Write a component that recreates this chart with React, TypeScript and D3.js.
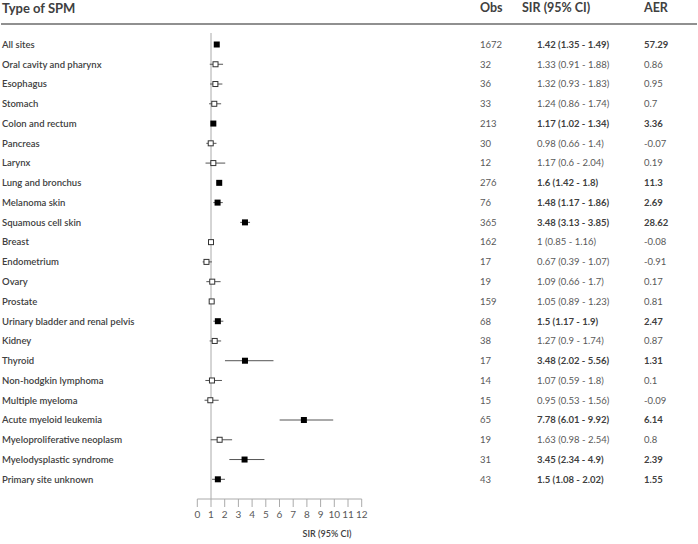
import React from "react";
import * as d3 from "d3";

const categories = [
  "All sites",
  "Oral cavity and pharynx",
  "Esophagus",
  "Stomach",
  "Colon and rectum",
  "Pancreas",
  "Larynx",
  "Lung and bronchus",
  "Melanoma skin",
  "Squamous cell skin",
  "Breast",
  "Endometrium",
  "Ovary",
  "Prostate",
  "Urinary bladder and renal pelvis",
  "Kidney",
  "Thyroid",
  "Non-hodgkin lymphoma",
  "Multiple myeloma",
  "Acute myeloid leukemia",
  "Myeloproliferative neoplasm",
  "Myelodysplastic syndrome",
  "Primary site unknown",
];
const obs = [1672, 32, 36, 33, 213, 30, 12, 276, 76, 365, 162, 17, 19, 159, 68, 38, 17, 14, 15, 65, 19, 31, 43];
const sir = [1.42, 1.33, 1.32, 1.24, 1.17, 0.98, 1.17, 1.6, 1.48, 3.48, 1, 0.67, 1.09, 1.05, 1.5, 1.27, 3.48, 1.07, 0.95, 7.78, 1.63, 3.45, 1.5];
const ciLow = [1.35, 0.91, 0.93, 0.86, 1.02, 0.66, 0.6, 1.42, 1.17, 3.13, 0.85, 0.39, 0.66, 0.89, 1.17, 0.9, 2.02, 0.59, 0.53, 6.01, 0.98, 2.34, 1.08];
const ciHigh = [1.49, 1.88, 1.83, 1.74, 1.34, 1.4, 2.04, 1.8, 1.86, 3.85, 1.16, 1.07, 1.7, 1.23, 1.9, 1.74, 5.56, 1.8, 1.56, 9.92, 2.54, 4.9, 2.02];
const aer = ["57.29", "0.86", "0.95", "0.7", "3.36", "-0.07", "0.19", "11.3", "2.69", "28.62", "-0.08", "-0.91", "0.17", "0.81", "2.47", "0.87", "1.31", "0.1", "-0.09", "6.14", "0.8", "2.39", "1.55"];
const xTicks = [0, 1, 2, 3, 4, 5, 6, 7, 8, 9, 10, 11, 12];

const FONT = "Lato, 'Open Sans', sans-serif";

export default function App() {
  const W = 698;
  const H = 544;
  const x = d3.scaleLinear().domain([0, 12]).range([197.3, 361.7]);
  const y = d3
    .scalePoint<string>()
    .domain(categories)
    .range([44.5, 479.3]);
  const axisY = 499;
  const sq = 6;

  return (
    <svg
      width={W}
      height={H}
      style={{ position: "absolute", left: 0, top: 0, display: "block", background: "#fff" }}
      fontFamily={FONT}
    >
      {/* header */}
      <text x={2} y={8} dy="0.35em" fontSize={13} fontWeight={700} fill="#404040">
        Type of SPM
      </text>
      <text x={480} y={8} dy="0.35em" fontSize={12.5} fontWeight={700} fill="#404040">
        Obs
      </text>
      <text x={522} y={8} dy="0.35em" fontSize={12.5} fontWeight={700} fill="#404040">
        SIR (95% CI)
      </text>
      <text x={644} y={8} dy="0.35em" fontSize={12.5} fontWeight={700} fill="#404040">
        AER
      </text>
      <line x1={1} x2={697} y1={24} y2={24} stroke="#6b6b6b" strokeWidth={1.5} />

      {/* reference line at 1 */}
      <line x1={x(1)} x2={x(1)} y1={33} y2={axisY} stroke="#aaaaaa" strokeWidth={1} />

      {/* axis */}
      <line x1={x(0)} x2={x(12)} y1={axisY} y2={axisY} stroke="#aaaaaa" strokeWidth={1} />
      {xTicks.map((t) => (
        <g key={t}>
          <line x1={x(t)} x2={x(t)} y1={axisY} y2={axisY + 8} stroke="#aaaaaa" strokeWidth={1} />
          <text x={x(t)} y={514} dy="0.35em" textAnchor="middle" fontSize={10} fill="#595959">
            {t}
          </text>
        </g>
      ))}
      <text x={327} y={534} dy="0.35em" textAnchor="middle" fontSize={9} fontWeight={600} fill="#404040">
        SIR (95% CI)
      </text>

      {categories.map((c, i) => {
        const cy = y(c) as number;
        const sig = ciLow[i] > 1;
        return (
          <g key={c}>
            <text x={2} y={cy} dy="0.35em" fontSize={9.5} fontWeight={600} fill="#404040">
              {c}
            </text>
            <line x1={x(ciLow[i])} x2={x(ciHigh[i])} y1={cy} y2={cy} stroke="#555" strokeWidth={1} />
            {sig ? (
              <rect x={x(sir[i]) - sq / 2} y={cy - sq / 2} width={sq} height={sq} fill="#000" />
            ) : (
              <rect
                x={x(sir[i]) - sq / 2 + 0.5}
                y={cy - sq / 2 + 0.5}
                width={sq - 1}
                height={sq - 1}
                fill="#fff"
                stroke="#333"
                strokeWidth={1}
              />
            )}
            <text x={480} y={cy} dy="0.35em" fontSize={9.5} fill="#595959">
              {obs[i]}
            </text>
            <text
              x={537}
              y={cy}
              dy="0.35em"
              fontSize={9.5}
              fontWeight={sig ? 700 : 400}
              fill={sig ? "#404040" : "#595959"}
            >
              {`${sir[i]} (${ciLow[i]} - ${ciHigh[i]})`}
            </text>
            <text
              x={644}
              y={cy}
              dy="0.35em"
              fontSize={9.5}
              fontWeight={sig ? 700 : 400}
              fill={sig ? "#404040" : "#595959"}
            >
              {aer[i]}
            </text>
          </g>
        );
      })}
    </svg>
  );
}
